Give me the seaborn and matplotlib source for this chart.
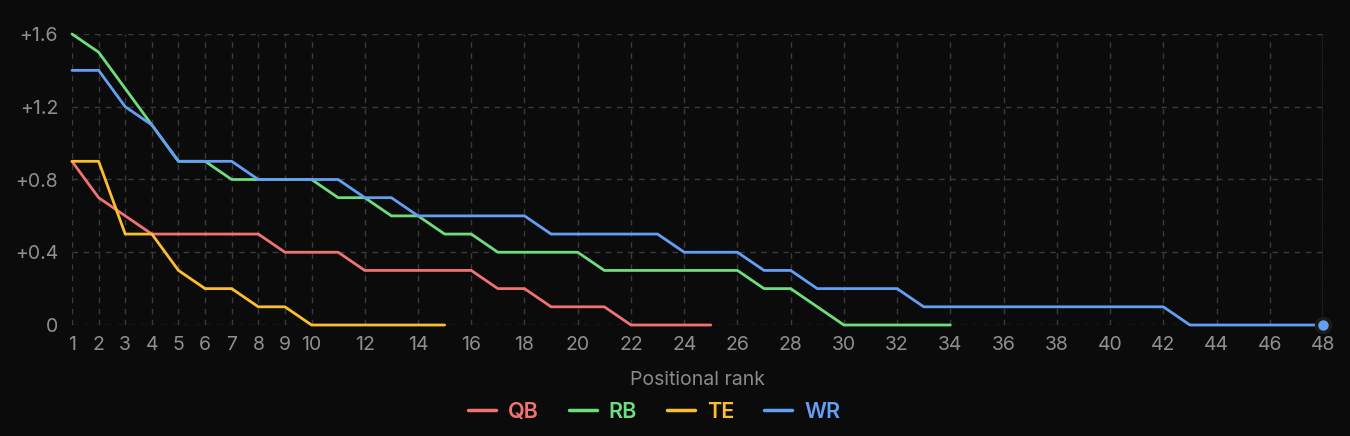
import pandas as pd
import matplotlib
matplotlib.use("Agg")
import matplotlib.pyplot as plt
import seaborn as sns


# DATA
# value over replacement by positional rank
qb_vals = [0.9, 0.7, 0.6, 0.5, 0.5, 0.5, 0.5, 0.5, 0.4, 0.4, 0.4, 0.3, 0.3,
           0.3, 0.3, 0.3, 0.2, 0.2, 0.1, 0.1, 0.1, 0.0, 0.0, 0.0, 0.0]
rb_vals = [1.6, 1.5, 1.3, 1.1, 0.9, 0.9, 0.8, 0.8, 0.8, 0.8, 0.7, 0.7, 0.6,
           0.6, 0.5, 0.5, 0.4, 0.4, 0.4, 0.4, 0.3, 0.3, 0.3, 0.3, 0.3, 0.3,
           0.2, 0.2, 0.1, 0.0, 0.0, 0.0, 0.0, 0.0]
te_vals = [0.9, 0.9, 0.5, 0.5, 0.3, 0.2, 0.2, 0.1, 0.1, 0.0, 0.0, 0.0, 0.0,
           0.0, 0.0]
wr_vals = [1.4, 1.4, 1.2, 1.1, 0.9, 0.9, 0.9, 0.8, 0.8, 0.8, 0.8, 0.7, 0.7,
           0.6, 0.6, 0.6, 0.6, 0.6, 0.5, 0.5, 0.5, 0.5, 0.5, 0.4, 0.4, 0.4,
           0.3, 0.3, 0.2, 0.2, 0.2, 0.2, 0.1, 0.1, 0.1, 0.1, 0.1, 0.1, 0.1,
           0.1, 0.1, 0.1, 0.0, 0.0, 0.0, 0.0, 0.0, 0.0]

positions = ["QB", "RB", "TE", "WR"]
colors = {"QB": "#f07272", "RB": "#6fdc7e", "TE": "#fbbf2e", "WR": "#63a0f5"}

x_ticks = [1, 2, 3, 4, 5, 6, 7, 8, 9, 10, 12, 14, 16, 18, 20, 22, 24, 26,
           28, 30, 32, 34, 36, 38, 40, 42, 44, 46, 48]
y_ticks = [0, 0.4, 0.8, 1.2, 1.6]
y_labels = ["0", "+0.4", "+0.8", "+1.2", "+1.6"]

# long format table for seaborn
rows = []
for pos, vals in zip(positions, [qb_vals, rb_vals, te_vals, wr_vals]):
    for i, v in enumerate(vals):
        rows.append({"pos": pos, "rank": i + 1, "value": v})
df = pd.DataFrame(rows)


# STYLE
bg = "#0b0b0b"
sns.set_theme(style="dark", rc={
    "figure.facecolor": bg,
    "axes.facecolor": bg,
    "savefig.facecolor": bg,
})
plt.rcParams["font.family"] = ["Inter", "DejaVu Sans"]


# PLOT
fig = plt.figure(figsize=(13.5, 4.36), dpi=100)
ax = fig.add_axes([72 / 1350, 1 - 325 / 436, (1323 - 72) / 1350, (325 - 34) / 436])

sns.lineplot(data=df, x="rank", y="value", hue="pos", palette=colors,
             hue_order=positions, linewidth=2.0, ax=ax, legend=False,
             clip_on=False, solid_joinstyle="round", solid_capstyle="round")

# hover crosshair + marker on the last WR point
ax.axvline(len(wr_vals), color="#555555", lw=1.0, zorder=1)
ax.plot([len(wr_vals)], [wr_vals[-1]], "o", color=colors["WR"], ms=10,
        mec="#1c1c1c", mew=2.5, clip_on=False, zorder=5)

ax.set_xlim(1, 48)
ax.set_ylim(0, 1.6)
ax.set_xticks(x_ticks)
ax.set_xticklabels([str(t) for t in x_ticks])
ax.set_yticks(y_ticks)
ax.set_yticklabels(y_labels)
ax.tick_params(axis="both", colors="#8f8f8f", labelsize=14, length=0)
ax.tick_params(axis="x", pad=8)
ax.tick_params(axis="y", pad=10)

ax.grid(True, color="#3a3a3a", linestyle=(0, (4, 4)), linewidth=1.0)
ax.set_axisbelow(True)
for s in ax.spines.values():
    s.set_visible(False)

ax.set_xlabel("Positional rank", color="#8a8a8a", fontsize=14, labelpad=12)
ax.set_ylabel("")

# legend with coloured labels
handles = [plt.Line2D([], [], color=colors[p], lw=2.5) for p in positions]
leg = fig.legend(handles, positions, loc="center", ncol=4, frameon=False,
                 bbox_to_anchor=(654 / 1350, 1 - 412 / 436),
                 handlelength=1.3, handletextpad=0.55, columnspacing=1.4,
                 prop={"size": 15.5, "weight": "semibold"})
for txt, p in zip(leg.get_texts(), positions):
    txt.set_color(colors[p])

fig.savefig("out.png", dpi=100)
